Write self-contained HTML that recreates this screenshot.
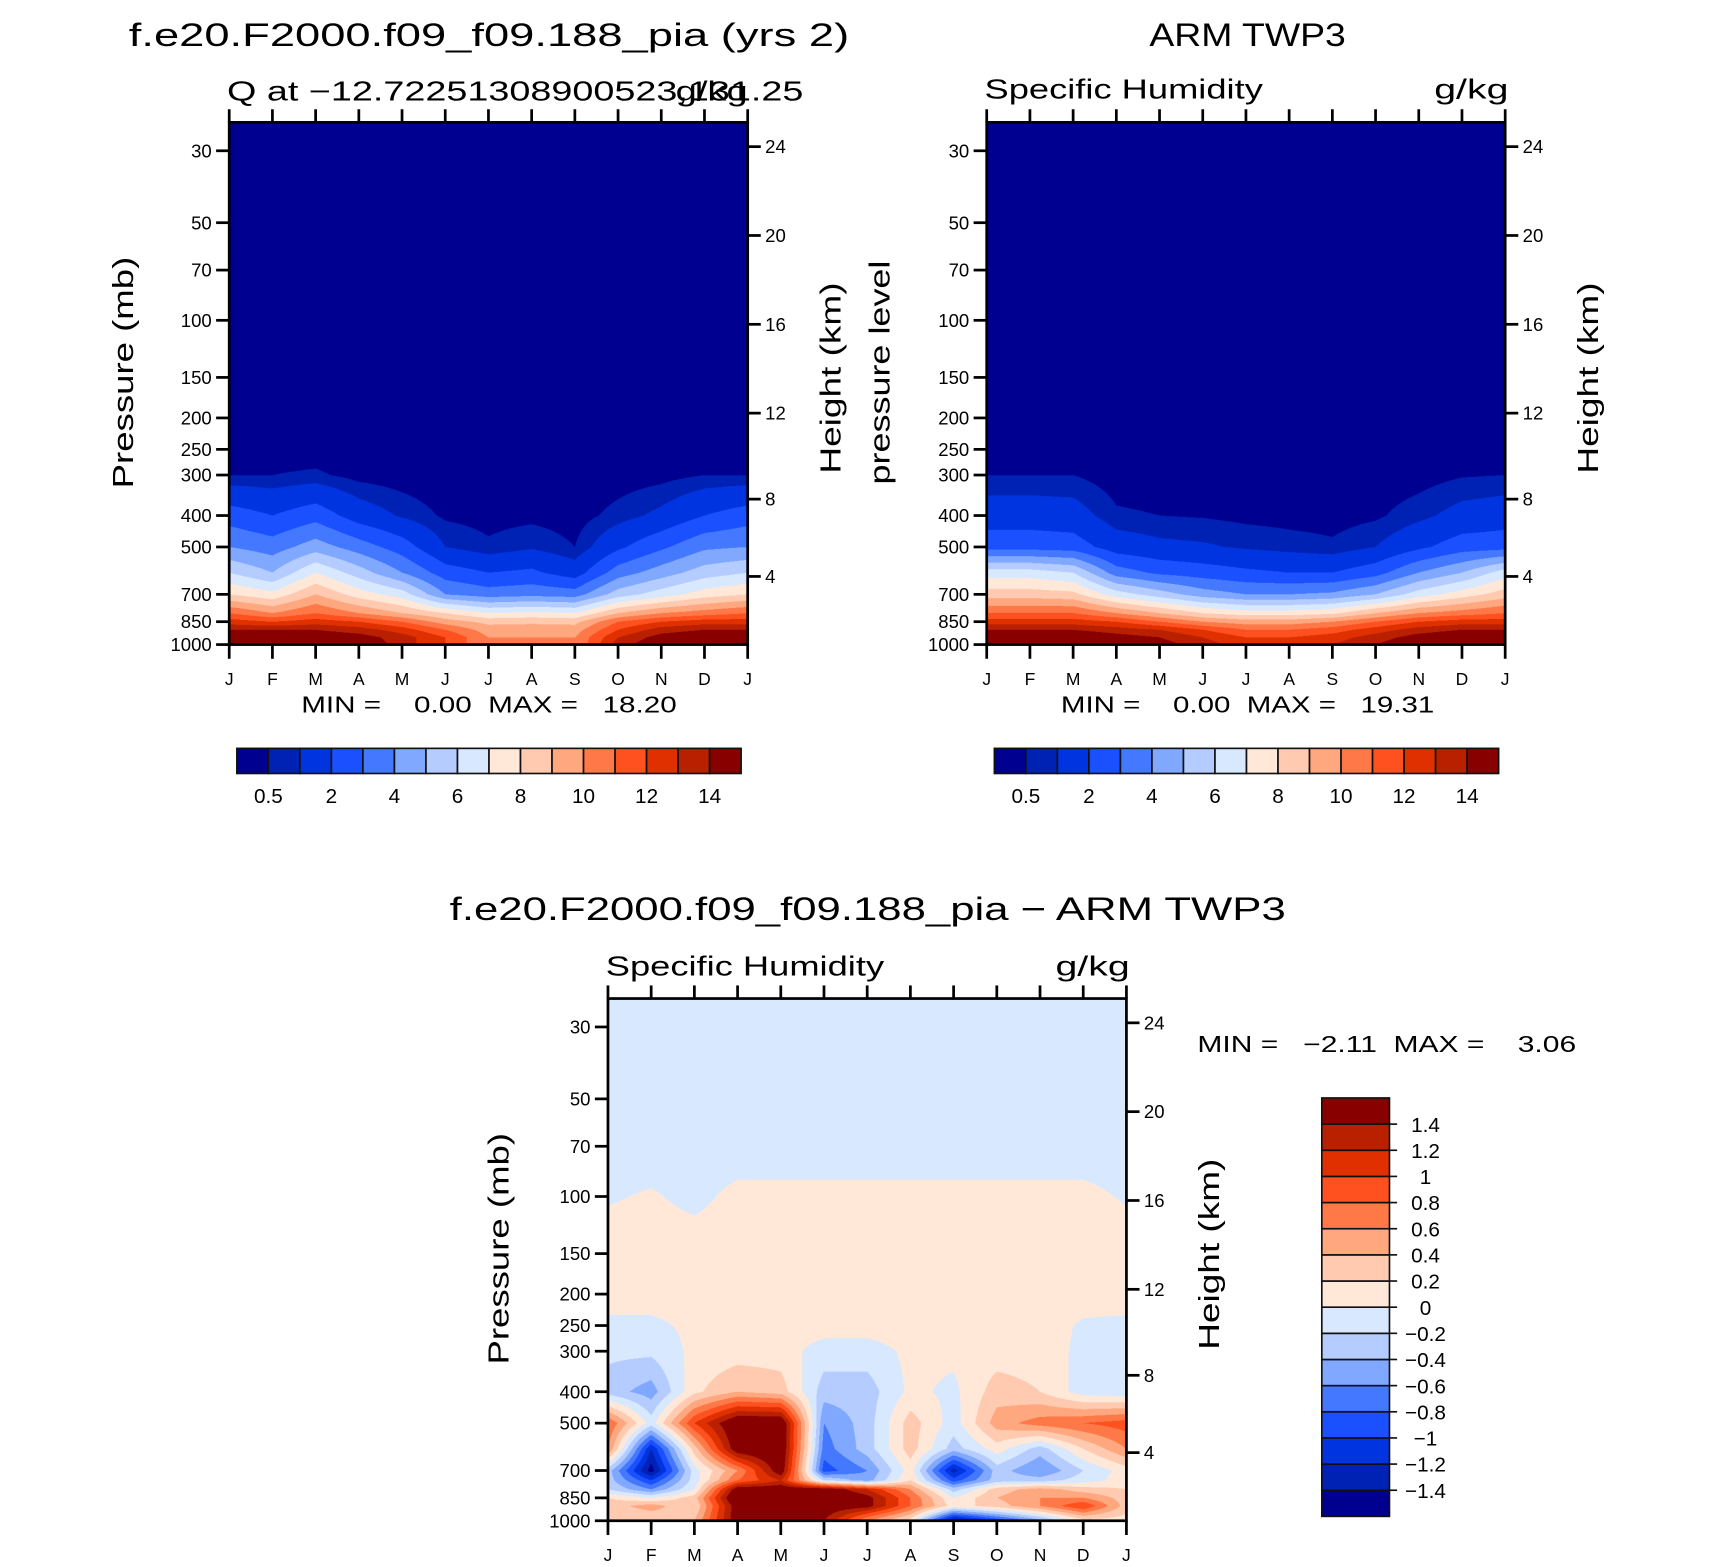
<!DOCTYPE html>
<html><head><meta charset="utf-8"><style>
html,body{margin:0;padding:0;background:#fff;overflow:hidden}
#root{position:absolute;left:0;top:0;width:1560px;height:1430px;transform-origin:0 0;transform:scale(1.0915,1.0925)}
canvas{position:absolute}
svg{position:absolute;left:0;top:0}
text{font-family:"Liberation Sans",sans-serif;fill:#000}
</style></head><body>
<div id="root">
<canvas id="c1"></canvas>
<canvas id="c2"></canvas>
<canvas id="c3"></canvas>
<svg id="s" width="1560" height="1430" viewBox="0 0 1560 1430"></svg>
</div>
<script>
// ---- data ----
const months = ["J","F","M","A","M","J","J","A","S","O","N","D","J"];
const levels = [1000,950,900,850,800,700,600,500,400,300,250,200,100,30];
const modelQ = [
[16,16,15.5,15,13.5,12,10,10,10,13.5,15,16,16],
[15,15,14.8,14.5,13.5,12,10,10,10,13,14.5,15,15],
[14,14,14,13.5,12.5,11,9.5,9.5,9.5,12,13.5,14,14],
[12.5,12,12.5,12,11,9.5,8.7,8.8,8.7,11,12,12.5,12.5],
[11,10,11,10,9,8,7,7.2,7,9,10,10.5,11],
[8,7.3,9,7.5,6.5,4,3.5,3.7,3.5,5.5,6.5,7.5,8],
[6,5,7,5.5,4,2.5,2,2.2,1.5,3.5,4.5,5.5,6],
[4,3.5,4.5,3.5,2.5,1.0,0.6,0.9,0.5,1.8,2.8,3.8,4],
[2.5,2,2.6,1.5,0.9,0.4,0.3,0.35,0.25,0.7,1.2,2,2.5],
[0.5,0.5,0.6,0.3,0.2,0.1,0.1,0.1,0.1,0.2,0.3,0.5,0.5],
[0.2,0.2,0.2,0.1,0.1,0.05,0.05,0.05,0.05,0.1,0.1,0.2,0.2],
[0.05,0.05,0.05,0.04,0.03,0.02,0.02,0.02,0.02,0.03,0.04,0.05,0.05],
[0,0,0,0,0,0,0,0,0,0,0,0,0],
[0,0,0,0,0,0,0,0,0,0,0,0,0]];
const obsQ = [
[15.5,15.5,15.5,15,14.5,13.5,12.5,12.5,13,14,15,15.5,15.5],
[15,15,15,14.5,14,13,12,12,12.5,13.5,14.5,15,15],
[14,14,14,13.5,13,12,11,11,11.5,12.5,13.5,14,14],
[12.5,12.5,12.5,12,11,10,9.5,9.5,10,11,12,12.5,12.5],
[11,11,11,10,9,8,7.5,7.5,7.8,9,10,10.5,11],
[8.5,8.5,8.3,6.5,5.5,4.5,4,4,4.2,5,6.5,7.5,8.5],
[6.5,6.5,6,3.5,2.8,2.5,2.2,2,2,2.6,4,5,6.5],
[2.6,2.6,2.5,1.5,1.2,1.1,0.9,0.75,0.6,1.0,1.8,2.5,2.6],
[1.5,1.5,1.4,0.6,0.5,0.45,0.35,0.3,0.28,0.4,0.8,1.3,1.5],
[0.5,0.5,0.5,0.2,0.15,0.12,0.1,0.1,0.1,0.15,0.25,0.45,0.5],
[0.2,0.2,0.2,0.1,0.08,0.06,0.05,0.05,0.05,0.07,0.1,0.18,0.2],
[0.05,0.05,0.05,0.04,0.03,0.02,0.02,0.02,0.02,0.03,0.04,0.05,0.05],
[0,0,0,0,0,0,0,0,0,0,0,0,0],
[0,0,0,0,0,0,0,0,0,0,0,0,0]];
const diffLevels = [1000,950,900,850,800,750,700,600,500,400,300,250,200,150,100,70,30];
const diffQ = [
[0.2,0.2,0.4,1.6,1.6,1.4,0.6,0.1,-1.5,-1.0,-0.5,0.1,0.1],
[0.25,0.35,0.3,1.6,1.6,1.5,1.0,0.45,-0.7,-0.35,0.05,0.55,0.2],
[0.3,0.5,0.2,1.6,1.6,1.6,1.5,0.8,0.1,0.3,0.6,1.0,0.3],
[0.2,0.0,0.3,1.8,1.8,1.8,1.5,0.8,0,0.4,0.6,0.6,0.3],
[-0.2,-0.6,0.0,1.6,1.6,1.6,1.2,0.6,-0.3,0.3,0.5,0.3,0.2],
[-0.3,-1.0,-0.1,0.8,1.2,-0.2,-0.5,0.2,-0.9,-0.3,-0.3,-0.1,0.1],
[-0.3,-1.5,-0.1,0.6,1.6,-0.9,-0.6,0.1,-1.3,-0.3,-0.6,-0.2,0.1],
[0.6,-1.2,0.3,1.6,1.7,-0.7,-0.3,0.3,-0.3,0.1,-0.3,0.2,0.6],
[0.8,-0.1,1.0,1.7,1.7,-0.6,-0.3,0.3,-0.1,0.5,0.7,0.8,0.9],
[-0.3,-0.5,0.15,0.4,0.3,-0.3,-0.3,0.05,-0.05,0.3,0.2,-0.1,-0.15],
[-0.15,-0.15,0.05,0.1,0.1,-0.1,-0.1,0.05,0.05,0.1,0.1,-0.05,-0.1],
[-0.05,-0.05,0.05,0.1,0.1,0.1,0.1,0.1,0.1,0.1,0.1,-0.03,-0.05],
[0.1,0.1,0.1,0.1,0.1,0.1,0.1,0.1,0.1,0.1,0.1,0.1,0.1],
[0.1,0.1,0.1,0.1,0.1,0.1,0.1,0.1,0.1,0.1,0.1,0.1,0.1],
[-0.02,0.02,-0.05,0.05,0.05,0.05,0.05,0.05,0.05,0.05,0.05,0.05,-0.02],
[-0.1,-0.1,-0.1,-0.1,-0.1,-0.1,-0.1,-0.1,-0.1,-0.1,-0.1,-0.1,-0.1],
[-0.1,-0.1,-0.1,-0.1,-0.1,-0.1,-0.1,-0.1,-0.1,-0.1,-0.1,-0.1,-0.1]];
const qBounds = [0.5,1,2,3,4,5,6,7,8,9,10,11,12,13,14];
const qTickLabels = ["0.5","2","4","6","8","10","12","14"];
const dBounds = [-1.4,-1.2,-1,-0.8,-0.6,-0.4,-0.2,0,0.2,0.4,0.6,0.8,1,1.2,1.4];
const dTickLabels = ["−1.4","−1.2","−1","−0.8","−0.6","−0.4","−0.2","0","0.2","0.4","0.6","0.8","1","1.2","1.4"];
const pTicks = [30,50,70,100,150,200,250,300,400,500,700,850,1000];
const hTicks = [4,8,12,16,20,24];
const palette = ["#000090","#0022b4","#0034e0","#1a50ff","#4478ff","#80a8ff","#b4ccff","#d8e8ff","#ffe8d8","#ffcab0","#ffa880","#ff7848","#ff5020","#e03000","#b82000","#880000"];

const PW=475, PH=478, K=128.9;
const NS="http://www.w3.org/2000/svg";
const svg=document.getElementById('s');
function el(tag,attrs,parent){const e=document.createElementNS(NS,tag);for(const k in attrs)e.setAttribute(k,attrs[k]);(parent||svg).appendChild(e);return e;}
function txt(x,y,s,size,anchor,parent,rot,len){const t=el('text',{x:x,y:y,'font-size':size,'text-anchor':anchor||'start'},parent);if(rot)t.setAttribute('transform','rotate(-90 '+x+' '+y+')');if(len){t.setAttribute('textLength',len);t.setAttribute('lengthAdjust','spacingAndGlyphs');}t.textContent=s;return t;}
function yOfP(y0b,p){return y0b-K*Math.log(1000/p);}
function pOfZ(zkm){const z=zkm*1000;if(z<=11000)return 1013.25*Math.pow(1-2.2558e-5*z,5.256);return 226.32*Math.exp(-(z-11000)/6341.6);}
function colorIdx(v,b){let i=0;while(i<b.length&&v>=b[i])i++;return i;}
function sample(grid,lev,m,p){
  const lp=Math.log(p);let r=0,f=0;
  if(p>=lev[0]){r=0;f=0;}else if(p<=lev[lev.length-1]){r=lev.length-2;f=1;}
  else{for(r=0;r<lev.length-1;r++){if(p<=lev[r]&&p>=lev[r+1])break;}f=(Math.log(lev[r])-lp)/(Math.log(lev[r])-Math.log(lev[r+1]));}
  let c=Math.floor(m);if(c>=12)c=11;if(c<0)c=0;const g=m-c;
  const a=grid[r][c]*(1-g)+grid[r][c+1]*g, b=grid[r+1][c]*(1-g)+grid[r+1][c+1]*g;
  return a*(1-f)+b*f;
}
function drawField(id,x0,y0,grid,lev,bounds){
  const cv=document.getElementById(id),S=2;
  cv.width=PW*S;cv.height=PH*S;cv.style.left=x0+'px';cv.style.top=y0+'px';cv.style.width=PW+'px';cv.style.height=PH+'px';
  const ctx=cv.getContext('2d');const img=ctx.createImageData(PW*S,PH*S);
  const rgb=palette.map(h=>[parseInt(h.substr(1,2),16),parseInt(h.substr(3,2),16),parseInt(h.substr(5,2),16)]);
  const y0b=y0+PH;
  for(let j=0;j<PH*S;j++){const yy=y0+(j+0.5)/S;const p=Math.exp(Math.log(1000)-(y0b-yy)/K);
    for(let i=0;i<PW*S;i++){const m=(i+0.5)/S/PW*12;const v=sample(grid,lev,m,p);const c=rgb[colorIdx(v,bounds)];const k=(j*PW*S+i)*4;img.data[k]=c[0];img.data[k+1]=c[1];img.data[k+2]=c[2];img.data[k+3]=255;}}
  ctx.putImageData(img,0,0);
}
function axes(x0,y0,name,ytitle,ytx,ylen){
  const g=el('g',{},svg);
  const y0b=y0+PH;
  el('rect',{x:x0,y:y0,width:PW,height:PH,fill:'none',stroke:'#000','stroke-width':2.5},g);
  months.forEach((mname,i)=>{const x=x0+i*PW/12;
    el('line',{x1:x,y1:y0,x2:x,y2:y0-12,stroke:'#000','stroke-width':2.5},g);
    el('line',{x1:x,y1:y0b,x2:x,y2:y0b+13,stroke:'#000','stroke-width':2.5},g);
    txt(x,y0b+37,mname,16,'middle',g);});
  pTicks.forEach(p=>{const y=yOfP(y0b,p);el('line',{x1:x0,y1:y,x2:x0-12,y2:y,stroke:'#000','stroke-width':2.5},g);txt(x0-16,y+6,String(p),17,'end',g);});
  hTicks.forEach(h=>{const y=yOfP(y0b,pOfZ(h));el('line',{x1:x0+PW,y1:y,x2:x0+PW+12,y2:y,stroke:'#000','stroke-width':2.5},g);txt(x0+PW+16,y+6,String(h),17,'start',g);});
  txt(ytx,y0+PH/2-10,ytitle,26,'middle',g,true,ylen);
  txt(x0+PW+85,y0+PH/2-5,'Height (km)',26,'middle',g,true,175);
}
function hbar(x0,y0,name){
  const g=el('g',{},svg);
  const w=462/16;
  palette.forEach((c,i)=>{el('rect',{x:x0+i*w,y:y0,width:w,height:23,fill:c,stroke:'#111','stroke-width':1.5},g);});
  qTickLabels.forEach((l,k)=>{txt(x0+(2*k+1)*w,y0+50,l,19,'middle',g);});
}
drawField('c1',210,112,modelQ,levels,qBounds);
drawField('c2',904,112,obsQ,levels,qBounds);
drawField('c3',557,914,diffQ,diffLevels,dBounds);
axes(210,112,'model','Pressure (mb)',122,212);
axes(904,112,'obs','pressure level',815,205);
axes(557,914,'diff','Pressure (mb)',466,212);
let t;
t=txt(118,42,'f.e20.F2000.f09_f09.188_pia (yrs 2)',30,'start',null,false,660);
t=txt(208,92,'Q at −12.72251308900523,131.25',25,'start',null,false,528);
t=txt(685,92,'g/kg',25,'end',null,false,66);
t=txt(276,652,'MIN =    0.00  MAX =   18.20',21,'start',null,false,344);
t=txt(1053,42,'ARM TWP3',30,'start',null,false,180);
t=txt(902,90,'Specific Humidity',25,'start',null,false,255);
t=txt(1382,90,'g/kg',25,'end',null,false,68);
t=txt(972,652,'MIN =    0.00  MAX =   19.31',21,'start',null,false,342);
t=txt(412,842,'f.e20.F2000.f09_f09.188_pia − ARM TWP3',30,'start',null,false,766);
t=txt(555,893,'Specific Humidity',25,'start',null,false,255);
t=txt(1035,893,'g/kg',25,'end',null,false,68);
t=txt(1097,963,'MIN =   −2.11  MAX =    3.06',21,'start',null,false,347);
svg.querySelectorAll('text').forEach(x=>{x.style.whiteSpace='pre';});
hbar(217,685,'model-colorbar');
hbar(911,685,'obs-colorbar');
const vg=el('g',{},svg);


const vh=383/16;
palette.forEach((c,i)=>{el('rect',{x:1211,y:1388-(i+1)*vh,width:62,height:vh,fill:c,stroke:'#111','stroke-width':1.5},vg);});
dTickLabels.forEach((l,k)=>{const y=1388-(k+1)*vh;el('line',{x1:1273,y1:y,x2:1280,y2:y,stroke:'#111','stroke-width':1.5},vg);txt(1306,y+7,l,19,'middle',vg);});
</script>
</body></html>
